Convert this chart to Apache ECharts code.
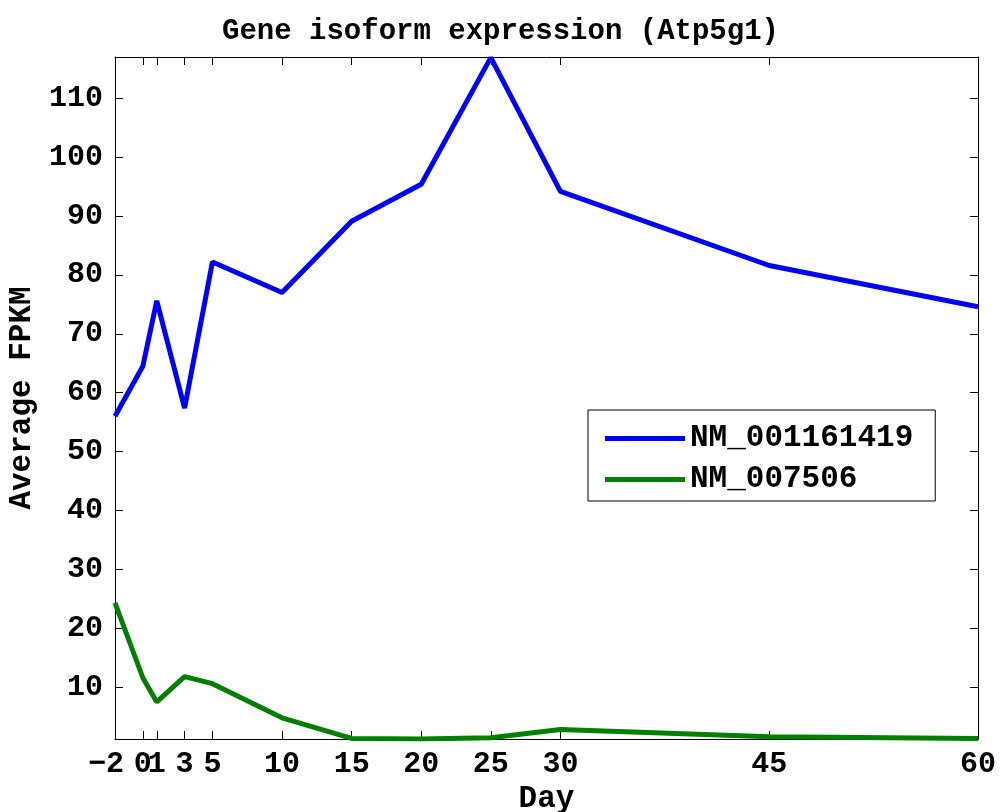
<!DOCTYPE html>
<html>
<head>
<meta charset="utf-8">
<script src="https://cdn.jsdelivr.net/npm/echarts@6/dist/echarts.min.js"></script>
<style>
  body { margin: 0; background: #fff; }
  #chart { width: 1001px; height: 812px; }
</style>
</head>
<body>
<div id="chart"></div>
<script>
// days on the x axis
const days = [-2, 0, 1, 3, 5, 10, 15, 20, 25, 30, 45, 60]
// isoform values
const nm001161419 = [56.0, 64.5, 75.6, 57.4, 82.2, 77.0, 89.1, 95.4, 116.9, 94.2, 81.6, 74.6]
const nm007506 = [24.3, 11.6, 7.5, 11.8, 10.6, 4.8, 1.3, 1.2, 1.4, 2.8, 1.6, 1.3]
const yTicks = [10, 20, 30, 40, 50, 60, 70, 80, 90, 100, 110]

const font = 'Liberation Mono'
const fs = 31   // names, legend
const tfs = 30  // tick labels

const pairs = vals => days.map((d, i) => [d, vals[i]])
const tickLabel = {
  fontFamily: font, fontWeight: 'bold', fontSize: tfs, color: '#000'
}
// labels crowd near zero, so 0 sits on its own helper axis
const labelsMain = days.filter(d => d !== 0)
const labelsZero = days.filter(d => d === 0)

const chart = echarts.init(document.getElementById('chart'))
chart.setOption({
  backgroundColor: '#fff',
  animation: false,
  title: {
    text: 'Gene isoform expression (Atp5g1)',
    left: 'center',
    top: 12,
    textStyle: { fontFamily: font, fontWeight: 'bold', fontSize: 29, color: '#000' }
  },
  grid: { left: 115, right: 23, top: 57, bottom: 73, outerBoundsMode: 'none', containLabel: false },
  legend: {
    left: 588,
    top: 410,
    orient: 'vertical',
    backgroundColor: '#fff',
    borderColor: '#000',
    borderWidth: 1,
    borderRadius: 0,
    padding: [13, 22, 6, 17],
    icon: 'rect',
    itemWidth: 80,
    itemHeight: 5,
    itemGap: 10,
    textStyle: { fontFamily: font, fontWeight: 'bold', fontSize: fs, color: '#000' },
    data: ['NM_001161419', 'NM_007506']
  },
  xAxis: [{
    type: 'value',
    min: -2,
    max: 60,
    name: 'Day',
    nameLocation: 'middle',
    nameGap: 42,
    nameTextStyle: { fontFamily: font, fontWeight: 'bold', fontSize: fs, color: '#000' },
    splitLine: { show: false },
    axisLine: { onZero: false, lineStyle: { color: '#000', width: 1 } },
    axisTick: { inside: true, length: 8, customValues: days, lineStyle: { color: '#000' } },
    axisLabel: {
      customValues: labelsMain,
      showMinLabel: true,
      showMaxLabel: true,
      margin: 10,
      ...tickLabel,
      // trailing space pushes the minus label left, as in the original
      formatter: v => (v < 0 ? '\u2212' + Math.abs(v) + '\u00a0' : String(v))
    }
  }, {
    type: 'value',
    position: 'top',
    min: -2,
    max: 60,
    splitLine: { show: false },
    axisLine: { onZero: false, lineStyle: { color: '#000', width: 1 } },
    axisTick: { inside: true, length: 8, customValues: days, lineStyle: { color: '#000' } },
    axisLabel: { show: false }
  }, {
    type: 'value',
    position: 'bottom',
    min: -2,
    max: 60,
    splitLine: { show: false },
    axisLine: { show: false, onZero: false },
    axisTick: { show: false },
    axisLabel: { customValues: labelsZero, margin: 10, ...tickLabel }
  }],
  yAxis: [{
    type: 'value',
    min: 1.2,
    max: 117,
    name: 'Average FPKM',
    nameLocation: 'middle',
    nameGap: 76,
    nameTextStyle: { fontFamily: font, fontWeight: 'bold', fontSize: fs, color: '#000' },
    splitLine: { show: false },
    axisLine: { show: true, onZero: false, lineStyle: { color: '#000', width: 1 } },
    axisTick: { show: true, inside: true, length: 8, customValues: yTicks, lineStyle: { color: '#000' } },
    axisLabel: { customValues: yTicks, margin: 12, ...tickLabel }
  }, {
    type: 'value',
    position: 'right',
    min: 1.2,
    max: 117,
    splitLine: { show: false },
    axisLine: { show: true, onZero: false, lineStyle: { color: '#000', width: 1 } },
    axisTick: { show: true, inside: true, length: 8, customValues: yTicks, lineStyle: { color: '#000' } },
    axisLabel: { show: false }
  }],
  series: [{
    name: 'NM_001161419',
    type: 'line',
    symbol: 'none',
    color: '#0000ff',
    lineStyle: { width: 5, color: '#0000ff' },
    data: pairs(nm001161419)
  }, {
    name: 'NM_007506',
    type: 'line',
    symbol: 'none',
    color: '#008000',
    lineStyle: { width: 5, color: '#008000' },
    data: pairs(nm007506)
  }]
})
</script>
</body>
</html>
